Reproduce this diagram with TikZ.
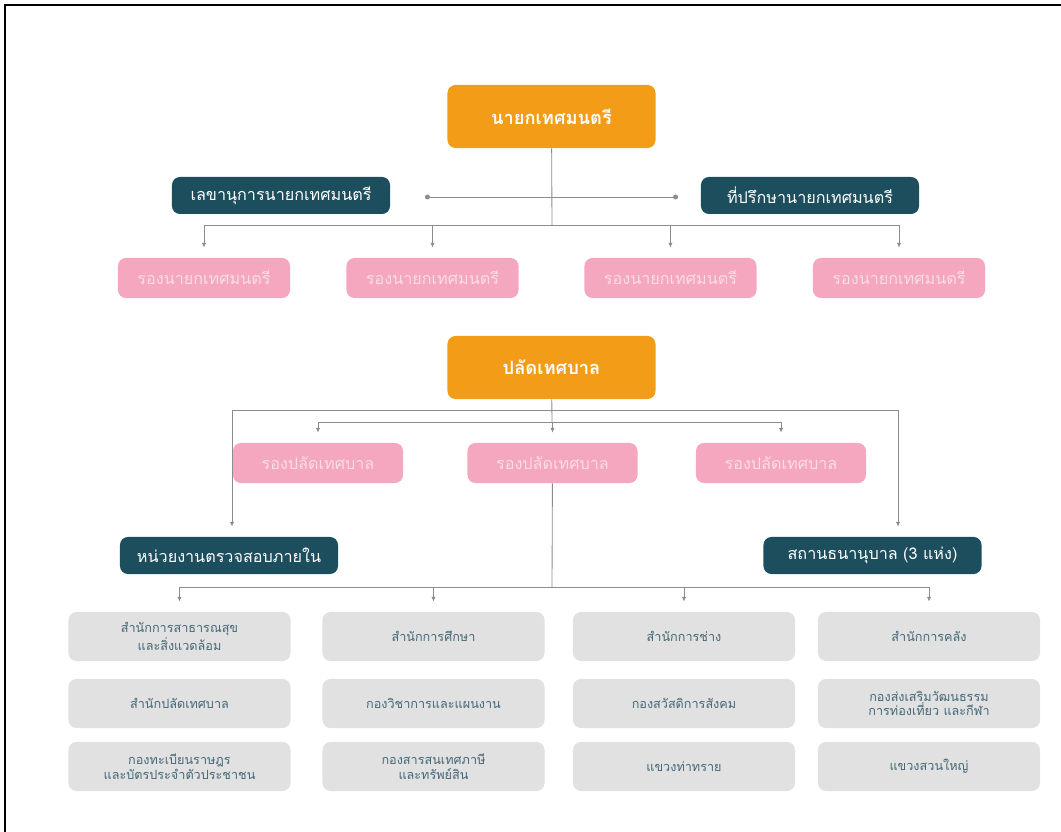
\documentclass[tikz,border=0pt]{standalone}
\usepackage{fontspec}
\newfontfamily\thaifont[Script=Thai]{Loma}
\usetikzlibrary{arrows.meta}

\definecolor{boxorange}{HTML}{F39C17}
\definecolor{boxteal}{HTML}{1D4E5E}
\definecolor{boxpink}{HTML}{F4A7BF}
\definecolor{pinktext}{HTML}{FBDDE6}
\definecolor{boxgrey}{HTML}{E1E1E1}
\definecolor{greytext}{HTML}{456878}
\definecolor{linegrey}{HTML}{8C8C8C}

\begin{document}
\begin{tikzpicture}[
        x=0.025cm, y=-0.025cm,
        every node/.style={rounded corners=0.2cm, align=center, font=\thaifont, inner sep=2pt},
        head/.style={fill=boxorange, text=white, minimum width=5.2cm, minimum height=1.575cm, font=\thaifont\bfseries\fontsize{13}{15}\selectfont},
        staff/.style={fill=boxteal, text=white, minimum width=5.45cm, minimum height=0.925cm, font=\thaifont\fontsize{11.5}{13}\selectfont},
        deputy/.style={fill=boxpink, text=pinktext, minimum width=4.3cm, minimum height=1cm, font=\thaifont\fontsize{11.5}{13}\selectfont},
        office/.style={fill=boxgrey, text=greytext, minimum width=5.55cm, minimum height=1.225cm, font=\thaifont\fontsize{9}{10.5}\selectfont},
        link/.style={draw=linegrey, line width=0.6pt},
        arr/.style={link, -{Latex[length=3.5pt,width=3pt]}, shorten >=2.5mm}
    ]
    \useasboundingbox (0,0) rectangle (1061,832);
    \draw[line width=1.2pt] (5,832) -- (5,5) -- (1061,5);

    \node[head] (mayor) at (551.5,116.5) {นายกเทศมนตรี};
    \node[staff] (secretary) at (281,195.5) {เลขานุการนายกเทศมนตรี};
    \node[staff] (advisor) at (810,195.5) {ที่ปรึกษานายกเทศมนตรี};
    \node[deputy] (rn1) at (204,278) {รองนายกเทศมนตรี};
    \node[deputy] (rn2) at (432.5,278) {รองนายกเทศมนตรี};
    \node[deputy] (rn3) at (670.5,278) {รองนายกเทศมนตรี};
    \node[deputy] (rn4) at (899,278) {รองนายกเทศมนตรี};

    \node[head] (palat) at (551.5,367.5) {ปลัดเทศบาล};
    \node[deputy, minimum width=4.25cm] (rp1) at (318,463) {รองปลัดเทศบาล};
    \node[deputy, minimum width=4.25cm] (rp2) at (552.5,463) {รองปลัดเทศบาล};
    \node[deputy, minimum width=4.25cm] (rp3) at (781,463) {รองปลัดเทศบาล};
    \node[staff] (audit) at (229,555.5) {หน่วยงานตรวจสอบภายใน};
    \node[staff] (pawn) at (872.5,555.5) {สถานธนานุบาล (3 แห่ง)};

    \node[office] (g11) at (179.5,636.5) {สำนักการสาธารณสุข\\และสิ่งแวดล้อม};
    \node[office] (g12) at (179.5,703.5) {สำนักปลัดเทศบาล};
    \node[office] (g13) at (179.5,766.5) {กองทะเบียนราษฎร\\และบัตรประจำตัวประชาชน};
    \node[office] (g21) at (433.5,636.5) {สำนักการศึกษา};
    \node[office] (g22) at (433.5,703.5) {กองวิชาการและแผนงาน};
    \node[office] (g23) at (433.5,766.5) {กองสารสนเทศภาษี\\และทรัพย์สิน};
    \node[office] (g31) at (684,636.5) {สำนักการช่าง};
    \node[office] (g32) at (684,703.5) {กองสวัสดิการสังคม};
    \node[office] (g33) at (684,766.5) {แขวงท่าทราย};
    \node[office] (g41) at (929,636.5) {สำนักการคลัง};
    \node[office] (g42) at (929,703.5) {กองส่งเสริมวัฒนธรรม\\การท่องเที่ยว และกีฬา};
    \node[office] (g43) at (929,766.5) {แขวงสวนใหญ่};

    \coordinate (s1) at (425,197);
    \coordinate (s2) at (678,197);
    \coordinate (bus1) at (552,225);
    \coordinate (o1) at (232,410);
    \coordinate (o2) at (898,410);
    \coordinate (bus3) at (552,422);
    \coordinate (bus4) at (552,587);

    \draw[link] (mayor) -- (bus1);
    \draw[link, {Circle[length=3.5pt]}-{Circle[length=3.5pt]}] (s1) -- (s2);
    \draw[link] (rn1 |- bus1) -- (rn4 |- bus1);
    \foreach \n in {rn1,rn2,rn3,rn4}
        \draw[arr] (\n |- bus1) -- (\n);

    \draw[link] (palat) -- (bus3);
    \draw[link] (o1) -- (o2);
    \draw[arr] (o1) -- (o1 |- audit.north);
    \draw[arr] (o2) -- (o2 |- pawn.north);
    \draw[link] (rp1 |- bus3) -- (rp3 |- bus3);
    \foreach \n in {rp1,rp2,rp3}
        \draw[arr] (\n |- bus3) -- (\n);
    \draw[link] (rp2) -- (bus4);
    \draw[link] (g11 |- bus4) -- (g41 |- bus4);
    \foreach \n in {g11,g21,g31,g41}
        \draw[arr] (\n |- bus4) -- (\n);
\end{tikzpicture}
\end{document}
